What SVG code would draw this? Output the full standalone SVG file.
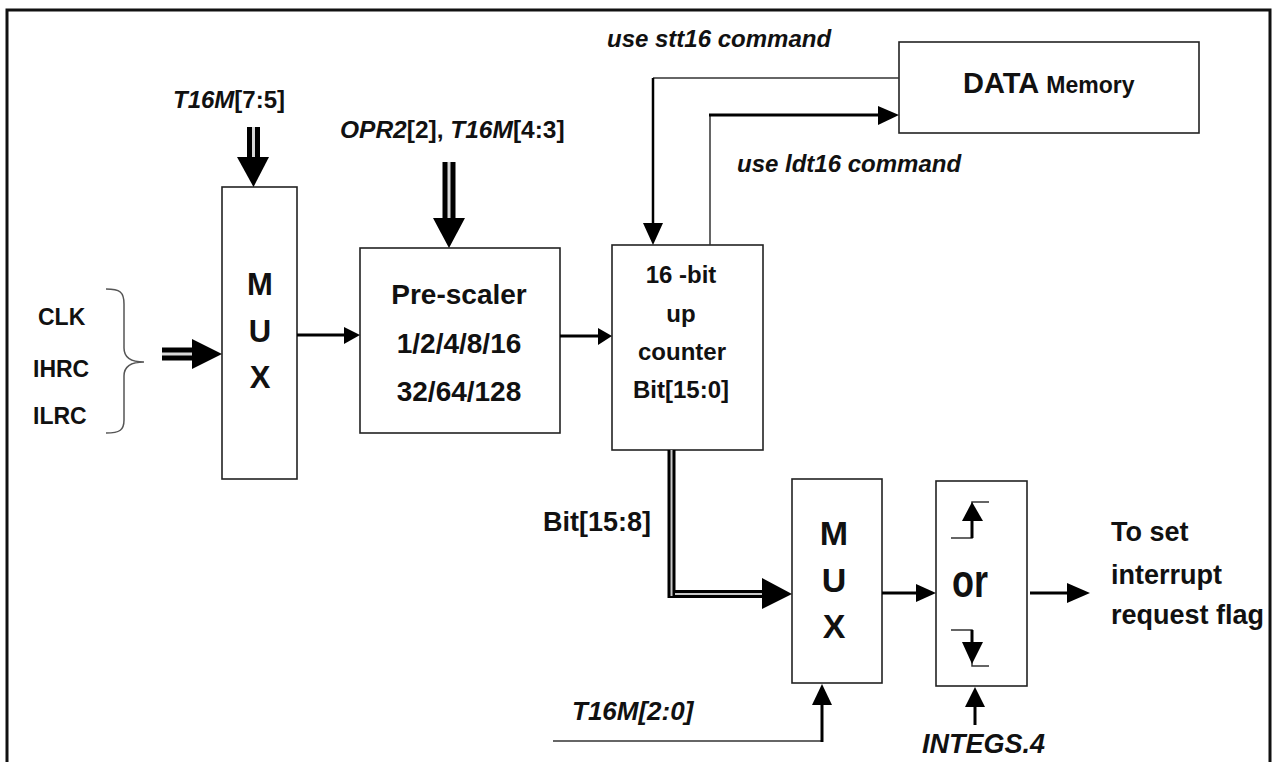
<svg xmlns="http://www.w3.org/2000/svg" width="1274" height="762" viewBox="0 0 1274 762">
<style>
text{font-family:"Liberation Sans",Arial,sans-serif;font-weight:bold;fill:#111}
.box{fill:#fff;stroke:#222;stroke-width:1.6}
.thin{fill:none;stroke:#333;stroke-width:1.5}
.wire{fill:none;stroke:#000;stroke-width:3}
.bus{fill:none;stroke:#000;stroke-width:13}
.busgap{fill:none;stroke:#d8d8d8;stroke-width:3}
.bus2{fill:none;stroke:#000;stroke-width:8}
.bus2gap{fill:none;stroke:#c8c8c8;stroke-width:2}
.head{fill:#000;stroke:none}
.it{font-style:italic}
.c{text-anchor:middle}
</style>
<rect x="0" y="0" width="1274" height="762" fill="#fff"/>
<path d="M7,762 V10 H1270 V762" fill="none" stroke="#111" stroke-width="3"/>

<g id="mux1">
<rect class="box" x="222" y="187" width="75" height="292"/>
<text class="c" x="260" y="295" font-size="31">M</text>
<text class="c" x="260" y="342" font-size="31">U</text>
<text class="c" x="260" y="388" font-size="31">X</text>
</g>

<g id="prescaler">
<rect class="box" x="360" y="248" width="200" height="185"/>
<text class="c" x="459" y="304" font-size="28">Pre-scaler</text>
<text class="c" x="459" y="353" font-size="28">1/2/4/8/16</text>
<text class="c" x="459" y="401" font-size="28">32/64/128</text>
</g>

<g id="counter">
<rect class="box" x="612" y="245" width="151" height="205"/>
<text class="c" x="681" y="283" font-size="24">16  -bit</text>
<text class="c" x="681" y="322" font-size="24">up</text>
<text class="c" x="682" y="360" font-size="24">counter</text>
<text class="c" x="681" y="398" font-size="24">Bit[15:0]</text>
</g>

<g id="datamem">
<rect class="box" x="899" y="42" width="300" height="91"/>
<text x="963" y="93" font-size="29">DATA <tspan font-size="23">Memory</tspan></text>
</g>

<g id="mux2">
<rect class="box" x="792" y="479" width="90" height="204"/>
<text class="c" x="834" y="545" font-size="34">M</text>
<text class="c" x="834" y="592" font-size="34">U</text>
<text class="c" x="834" y="638" font-size="34">X</text>
</g>

<g id="edge">
<rect class="box" x="936" y="481" width="91" height="205"/>
<text class="c" transform="translate(970,597) scale(1,1.3)" x="0" y="0" font-size="36">or</text>
<path class="thin" d="M951,538 H972 V502 H989" stroke="#000"/>
<path class="wire" d="M972,538 V518"/>
<polygon class="head" points="972,502 962,521 983,521"/>
<path class="thin" d="M951,630 H972 V666 H989" stroke="#000"/>
<path class="wire" d="M972,630 V645"/>
<polygon class="head" points="972,664 962,642 983,642"/>
</g>

<g id="sources">
<text x="38" y="325" font-size="23">CLK</text>
<text x="33" y="377" font-size="23">IHRC</text>
<text x="33" y="424" font-size="23">ILRC</text>
<path d="M106,289 C120,289 124,292 124,304 V348 C124,357 130,362 144,362 C130,362 124,367 124,376 V420 C124,430 120,433 106,433" fill="none" stroke="#555" stroke-width="1.5"/>
</g>

<g id="labels">
<text x="173" y="108" font-size="24"><tspan class="it">T16M</tspan>[7:5]</text>
<text x="340" y="138" font-size="24.5"><tspan class="it">OPR2</tspan>[2], <tspan class="it">T16M</tspan>[4:3]</text>
<text class="it" x="607" y="47" font-size="24">use stt16 command</text>
<text class="it" x="737" y="172" font-size="24">use ldt16 command</text>
<text x="543" y="531" font-size="27">Bit[15:8]</text>
<text class="it" x="572" y="720" font-size="26">T16M[2:0]</text>
<text class="it" x="922" y="753" font-size="27">INTEGS.4</text>
<text x="1111" y="541" font-size="27">To set</text>
<text x="1111" y="584" font-size="27">interrupt</text>
<text x="1111" y="624" font-size="27">request flag</text>
</g>

<g id="connectors">
<path class="bus" d="M253.5,127 V160"/>
<path class="busgap" d="M253.5,127 V160"/>
<polygon class="head" points="237,157 269,157 253.5,187"/>
<path class="bus" d="M449,162 V221"/>
<path class="busgap" d="M449,162 V221"/>
<polygon class="head" points="433,218 465,218 449,248"/>
<path class="bus" d="M162,354 H195"/>
<path class="busgap" d="M162,354 H195"/>
<polygon class="head" points="192,339 192,369 222,354"/>
<path class="wire" d="M297,335 H347"/>
<polygon class="head" points="344,327 360,335 344,344"/>
<path class="wire" d="M560,336 H600"/>
<polygon class="head" points="598,328 612,336 598,345"/>
<path d="M899,78 H653" fill="none" stroke="#333" stroke-width="1.5"/>
<path d="M653,78 V226" fill="none" stroke="#000" stroke-width="2.5"/>
<polygon class="head" points="643,223 663,223 653,245"/>
<path d="M710,245 V115" fill="none" stroke="#333" stroke-width="1.5"/>
<path class="wire" d="M709,115 H881"/>
<polygon class="head" points="878,106 899,115 878,125"/>
<path class="bus2" d="M671.5,450 V598"/>
<path class="bus2gap" d="M671.5,450 V596"/>
<path class="bus2" d="M673,594 H765"/>
<path class="bus2gap" d="M675,594 H765"/>
<polygon class="head" points="762,578 762,609 792,594"/>
<path d="M553,741 H822" fill="none" stroke="#333" stroke-width="1.5"/>
<path class="wire" d="M822,742 V702"/>
<polygon class="head" points="812,705 832,705 822,684"/>
<path class="wire" d="M882,593 H920"/>
<polygon class="head" points="916,584 936,593 916,602"/>
<path class="wire" d="M975,725 V704"/>
<polygon class="head" points="965,707 985,707 975,687"/>
<path class="wire" d="M1030,593 H1070"/>
<polygon class="head" points="1067,583 1090,593 1067,603"/>
</g>
</svg>
